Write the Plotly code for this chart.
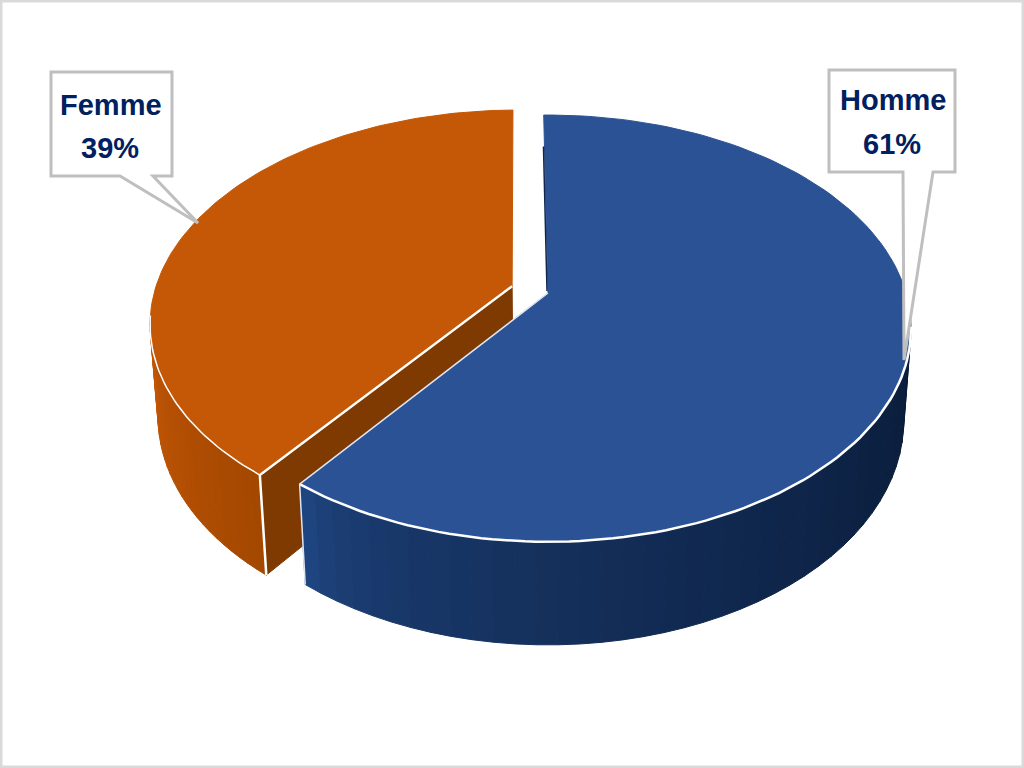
import math
import plotly.graph_objects as go

# data
labels = ['Homme', 'Femme']
shares = [61, 39]
top_colors = ['#2a5294', '#c55806']
inner_colors = ['#10264c', '#7f3a02']
wall_from = [['#1f4580', '#0a1c3a'], ['#a44800', '#c25606']]

# pie geometry (perspective view of a disc)
cx, cy = 548, 293
rx, ry = 358, 207.5
persp = 0.166
height = 93
persp_z = 0.02
start = -0.8
cut_shift = -1.8  # the 3d view eats a bit of the first slice
explode = [0, 0.106]


def project(theta, r=1.0, t=0.0, off=(0, 0)):
    a = math.radians(theta)
    x = r * math.sin(a) + off[0]
    y = r * math.cos(a) + off[1]
    w = 1 + persp * y + persp_z * t
    return cx + rx * x / w, cy + (-ry * y + height * t) / w


def arc(a, b, t=0.0, off=(0, 0), n=120):
    pts = [project(a + (b - a) * i / n, 1.0, t, off) for i in range(n + 1)]
    return [p[0] for p in pts], [p[1] for p in pts]


def mix(c1, c2, f):
    v1 = [int(c1[i:i + 2], 16) for i in (1, 3, 5)]
    v2 = [int(c2[i:i + 2], 16) for i in (1, 3, 5)]
    return 'rgb({},{},{})'.format(*[round(p + (q - p) * f) for p, q in zip(v1, v2)])


fig = go.Figure()


def poly(xs, ys, color, edge=None, width=1):
    fig.add_trace(go.Scatter(x=xs, y=ys, mode='lines', fill='toself', fillcolor=color,
                             line=dict(color=edge or color, width=width), hoverinfo='skip', showlegend=False))


def stroke(xs, ys, color='white', width=2):
    fig.add_trace(go.Scatter(x=xs, y=ys, mode='lines', line=dict(color=color, width=width),
                             hoverinfo='skip', showlegend=False))


boundary = start + 360 * shares[0] / sum(shares) + cut_shift

# orange slice first, the blue one sits in front of it
mid = math.radians((boundary + start + 360) / 2)
off = (explode[1] * math.sin(mid), explode[1] * math.cos(mid))
corner = project(boundary, 1, 0, off)
corner_low = project(boundary, 1, 1, off)
apex = project(0, 0, 0, off)
apex_low = project(0, 0, 1, off)
poly([apex[0], corner[0], corner_low[0], apex_low[0], apex[0]],
     [apex[1], corner[1], corner_low[1], apex_low[1], apex[1]], inner_colors[1])
left_limit = 262
steps = 24
for i in range(steps):
    a = boundary + (left_limit - boundary) * i / steps
    b = boundary + (left_limit - boundary) * (i + 1) / steps
    x1, y1 = arc(a, b, 0, off, 6)
    x2, y2 = arc(a, b, 1, off, 6)
    poly(x1 + x2[::-1] + x1[:1], y1 + y2[::-1] + y1[:1], mix(wall_from[1][0], wall_from[1][1], i / (steps - 1)))
xs, ys = arc(boundary, start + 360, 0, off)
poly([apex[0]] + xs + [apex[0]], [apex[1]] + ys + [apex[1]], top_colors[1])
stroke([apex[0], corner[0], corner_low[0]], [apex[1], corner[1], corner_low[1]], width=2.5)
xs, ys = arc(boundary, left_limit, 0, off, 40)
stroke(xs, ys, width=1.5)

# blue slice
apex = project(0, 0)
right_limit = 99
steps = 40
for i in range(steps):
    a = boundary + (right_limit - boundary) * i / steps
    b = boundary + (right_limit - boundary) * (i + 1) / steps
    x1, y1 = arc(a, b, 0, (0, 0), 4)
    x2, y2 = arc(a, b, 1, (0, 0), 4)
    poly(x1 + x2[::-1] + x1[:1], y1 + y2[::-1] + y1[:1], mix(wall_from[0][0], wall_from[0][1], (i / (steps - 1)) ** 0.55))
xs, ys = arc(start, boundary)
poly([apex[0]] + xs + [apex[0]], [apex[1]] + ys + [apex[1]], top_colors[0])
xs, ys = arc(right_limit, boundary, 0, (0, 0), 80)
stroke(xs, ys, width=2.5)
corner = project(boundary)
corner_low = project(boundary, 1, 1)
stroke([corner_low[0], corner[0], apex[0]], [corner_low[1], corner[1], apex[1]], '#dfe6f2', 1.5)
# thin cut face along the top edge
top = project(start, 0.8)
stroke([apex[0] - 1, top[0] - 1], [apex[1] - 2, top[1]], inner_colors[0], 1.5)

# callouts
gray = '#bfbfbf'
callouts = [
    dict(path='M51,72 H172 V176 H153 L198,223 L120,176 H51 Z', name=(111, 105), pct=(110, 148), i=1),
    dict(path='M829,70 H955 V172 H933 L904,360 L903,172 H829 Z', name=(893, 100), pct=(892, 144), i=0),
]
shapes = [dict(type='rect', xref='paper', yref='paper', x0=0, x1=1, y0=0, y1=1,
               line=dict(color='#d9d9d9', width=5), layer='above')]
annotations = []
for c in callouts:
    shapes.append(dict(type='path', path=c['path'], xref='x', yref='y', fillcolor='white',
                       line=dict(color=gray, width=3), layer='above'))
    for pos, text in ((c['name'], labels[c['i']]), (c['pct'], '{}%'.format(shares[c['i']]))):
        annotations.append(dict(x=pos[0], y=pos[1], text='<b>' + text + '</b>', showarrow=False,
                                xref='x', yref='y', font=dict(family='Liberation Sans', size=29, color='#002060')))

fig.update_layout(width=1024, height=768, margin=dict(l=0, r=0, t=0, b=0), paper_bgcolor='white', plot_bgcolor='white',
                  xaxis=dict(range=[0, 1024], visible=False), yaxis=dict(range=[768, 0], visible=False),
                  shapes=shapes, annotations=annotations, showlegend=False)
fig.write_html('out.html', config={'displayModeBar': False},
               post_script="document.body.style.margin='0';document.body.style.overflow='hidden';")
